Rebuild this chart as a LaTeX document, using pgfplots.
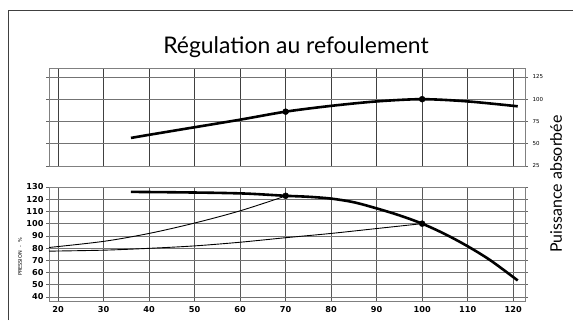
\documentclass[border=0pt]{standalone}
\usepackage{pgfplots}
\pgfplotsset{compat=1.18}
\usepackage{fontspec}
\setmainfont{Lato}
\newfontfamily\tickfont{DejaVu Sans}
\begin{document}
\begin{tikzpicture}[x=1bp,y=1bp]
\path[use as bounding box] (0,0) rectangle (573,323);
\draw[black!75, line width=0.8bp] (8,3) -- (8,313) -- (573,313);
\node[anchor=base, font=\fontsize{23}{27}\selectfont] at (296,270) {Régulation au refoulement};
\node[rotate=90, font=\fontsize{16}{18}\selectfont] at (556,139) {Puissance absorbée};
\node[rotate=90, font=\tickfont\fontsize{5}{6}\selectfont] at (20,66) {PRESSION~~-~~\%};
% top axis
\begin{axis}[at={(49bp,157bp)}, anchor=south west, scale only axis,
  width=476bp, height=98bp,
  xmin=18, xmax=122.6, ymin=25, ymax=135,
  xtick={20,30,...,120}, ytick={25,50,75,100,125},
  xticklabels={}, yticklabel pos=right,
  /pgf/number format/assume math mode=true,
  yticklabel style={font=\tickfont\fontsize{5.5}{6}\selectfont, xshift=1bp},
  tick align=outside, major tick length=3bp,
  xtick style={draw=none}, ytick style={black!60, line width=0.6bp},
  axis line style={black!50, line width=0.8bp},
  grid=major,
  x grid style={black!75, line width=0.7bp},
  y grid style={black!55, line width=0.7bp},
  clip=false]
\addplot[black, line width=2.6bp, smooth] coordinates {
 (36,56.5) (40,60) (50,68.5) (60,77) (70,86) (80,92.5) (90,97.5) (100,100) (110,97.5) (121,92)};
\addplot[black, only marks, mark=*, mark size=3bp] coordinates {(70,86) (100,100)};
\end{axis}
% bottom axis
\begin{axis}[at={(49bp,22bp)}, anchor=south west, scale only axis,
  width=476bp, height=114bp,
  xmin=18, xmax=122.6, ymin=36.7, ymax=130,
  xtick={20,30,...,120}, ytick={40,50,...,130},
  /pgf/number format/assume math mode=true,
  ticklabel style={font=\tickfont\bfseries\fontsize{8.2}{9}\selectfont},
  yticklabel style={xshift=1bp},
  xticklabel style={yshift=1bp},
  tick align=outside, major tick length=3bp,
  xtick style={draw=none}, ytick style={black!60, line width=0.6bp},
  axis line style={black!50, line width=0.8bp},
  grid=major,
  x grid style={black!65, line width=0.7bp},
  y grid style={black!55, line width=0.7bp},
  clip=false]
\addplot[black, line width=0.9bp, smooth] coordinates {
 (18,80.5) (30,85.5) (40,92) (50,100.5) (60,110.5) (70,122.6)};
\addplot[black, line width=0.9bp, smooth] coordinates {
 (18,77.5) (30,78.3) (40,79.8) (50,81.8) (60,84.8) (70,88.5) (80,92) (90,96) (100,100)};
\addplot[black, line width=2.6bp, smooth] coordinates {
 (36,126) (45,125.7) (55,125.2) (62,124.5) (70,122.8) (75,122) (80,120.5) (85,117.5) (90,112.5) (95,106.8) (100,100) (105,91.5) (110,81.5) (115,70) (121,53.5)};
\addplot[black, only marks, mark=*, mark size=3bp] coordinates {(70,122.8) (100,100)};
\end{axis}
\end{tikzpicture}
\end{document}
